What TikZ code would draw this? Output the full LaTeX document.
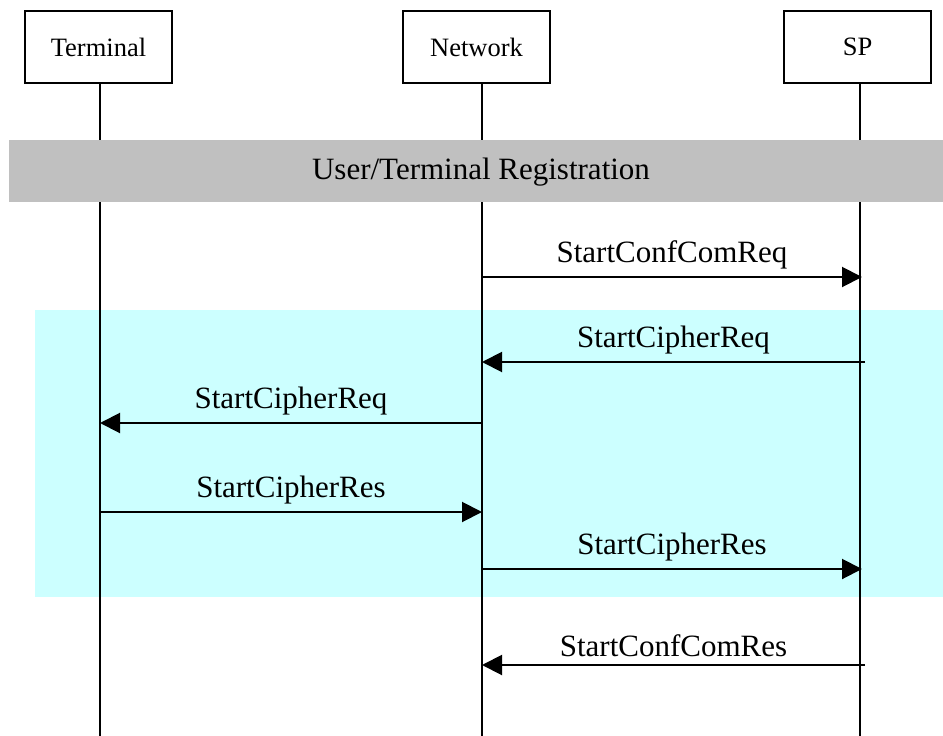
\documentclass[tikz,border=0pt]{standalone}
\usepackage{fontspec}
\setmainfont{Liberation Serif}
\usetikzlibrary{arrows.meta}
\definecolor{bandgray}{HTML}{C0C0C0}
\definecolor{bandcyan}{HTML}{CCFFFF}
\begin{document}
\begin{tikzpicture}[x=1pt,y=-1pt,
  entity/.style={draw, line width=1.5pt, minimum width=147pt, minimum height=72pt, inner sep=0pt, font=\fontsize{26.5}{30}\selectfont},
  life/.style={line width=1.5pt},
  msg/.style={line width=2pt, -{Triangle[length=20pt,width=20pt]}},
  lbl/.style={inner sep=0pt, font=\fontsize{31}{35}\selectfont}
]
\useasboundingbox (0,0) rectangle (943,736);
% cyan band
\fill[bandcyan] (35,310) rectangle (943,597);
% entities
\node[entity] (term) at (98.5,47) {Terminal};
\node[entity] (net) at (476.5,47) {Network};
\node[entity] (sp) at (857.5,47) {SP};
% lifelines
\coordinate (tBot) at (100,736);
\coordinate (nBot) at (482,736);
\coordinate (sBot) at (860,736);
\draw[life] (term.south -| tBot) -- (tBot);
\draw[life] (net.south -| nBot) -- (nBot);
\draw[life] (sp.south -| sBot) -- (sBot);
% gray band
\fill[bandgray] (9,140) rectangle (943,202);
\node[lbl] (reg) at (481,172.5) {User/Terminal Registration};
% message endpoints
\coordinate (n1) at (482,277); \coordinate (s1) at (862,277);
\coordinate (s2) at (865,362); \coordinate (n2) at (482,362);
\coordinate (n3) at (482,423); \coordinate (t3) at (100,423);
\coordinate (t4) at (100,512); \coordinate (n4) at (482,512);
\coordinate (n5) at (482,569); \coordinate (s5) at (862,569);
\coordinate (s6) at (865,665); \coordinate (n6) at (482,665);
% messages
\draw[msg] (n1) -- (s1) node[lbl, midway, above=7pt] (m1) {StartConfComReq};
\draw[msg] (s2) -- (n2) node[lbl, midway, above=7pt] (m2) {StartCipherReq};
\draw[msg] (n3) -- (t3) node[lbl, midway, above=7pt] (m3) {StartCipherReq};
\draw[msg] (t4) -- (n4) node[lbl, midway, above=7pt] (m4) {StartCipherRes};
\draw[msg] (n5) -- (s5) node[lbl, midway, above=7pt] (m5) {StartCipherRes};
\draw[msg] (s6) -- (n6) node[lbl, midway, above=7pt] (m6) {StartConfComRes};
\end{tikzpicture}
\end{document}
